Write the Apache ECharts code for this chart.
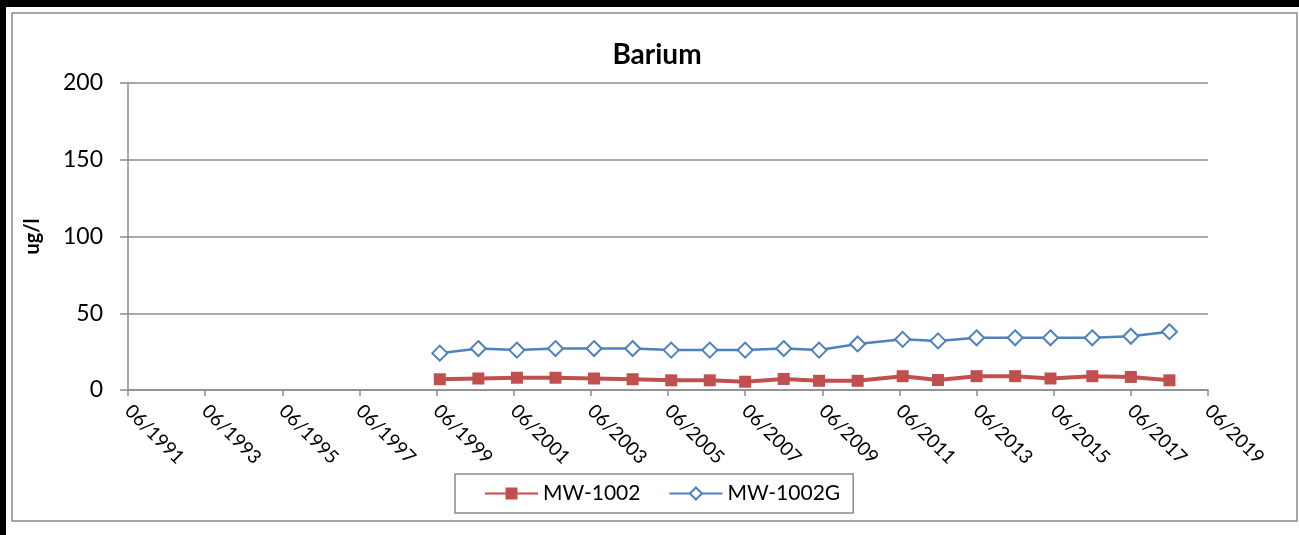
<!DOCTYPE html>
<html>
<head>
<meta charset="utf-8">
<script src="https://cdn.jsdelivr.net/npm/echarts@6/dist/echarts.min.js"></script>
<style>
html,body{margin:0;padding:0;background:#fff;}
#chart{width:1299px;height:535px;}
</style>
</head>
<body>
<div id="chart"></div>
<script>
// ---- data ----
const sampleDates = ['1999-07','2000-07','2001-07','2002-07','2003-07','2004-07','2005-07','2006-07','2007-06','2008-06',
                     '2009-05','2010-05','2011-07','2012-06','2013-06','2014-06','2015-05','2016-06','2017-06','2018-06'];
const mw1002  = [7, 7.5, 8, 8, 7.5, 7, 6.3, 6.3, 5.4, 7.2, 6, 6, 9, 6.5, 9, 9, 7.5, 9, 8.5, 6.3];
const mw1002G = [24, 27, 26, 27, 27, 27, 26, 26, 26, 27, 26, 30, 33, 32, 34, 34, 34, 34, 35, 38];
const seriesNames = ['MW-1002', 'MW-1002G'];
const yTicks = [0, 50, 100, 150, 200];
const startYear = 1991, startMonth = 6;   // axis origin 06/1991
const endYear = 2019;

function monthOffset(s){
  const [y, m] = s.split('-').map(Number);
  return (y - startYear) * 12 + (m - startMonth);
}
const xs = sampleDates.map(monthOffset);

const chart = echarts.init(document.getElementById('chart'));
const FONT = 'Lato';
chart.setOption({
  animation: false,
  textStyle: {fontFamily: FONT},
  title: {
    text: 'Barium', left: 652, top: 36, textAlign: 'center',
    textStyle: {fontFamily: FONT, fontSize: 28, fontWeight: 'bold', color: '#000'}
  },
  graphic: [
    {type: 'rect', shape: {x: 0, y: 0, width: 1299, height: 7}, style: {fill: '#000'}, silent: true},
    {type: 'rect', shape: {x: 0, y: 0, width: 6, height: 535}, style: {fill: '#000'}, silent: true},
    {type: 'rect', shape: {x: 12, y: 13, width: 1285, height: 508}, style: {fill: 'none', stroke: '#8c8c8c', lineWidth: 1.5}, silent: true}
  ],
  legend: {
    left: 455, top: 474,
    padding: [9, 13, 9, 29],
    itemWidth: 53, itemHeight: 15, itemGap: 28,
    borderColor: '#8c8c8c', borderWidth: 1.5,
    textStyle: {fontFamily: FONT, fontSize: 21, color: '#000'},
    data: seriesNames
  },
  grid: {left: 128, right: 91, top: 83, bottom: 145, containLabel: false},
  xAxis: {
    type: 'value', min: 0, max: (endYear - startYear) * 12, interval: 24,
    axisLine: {show: true, onZero: true, lineStyle: {color: '#8c8c8c', width: 1.5}},
    axisTick: {show: true, length: 6, lineStyle: {color: '#8c8c8c', width: 1.5}},
    splitLine: {show: false},
    axisLabel: {
      rotate: -45, fontFamily: FONT, fontSize: 19, color: '#000', margin: 18,
      formatter: v => '06/' + (startYear + Math.round(v / 12))
    }
  },
  yAxis: {
    type: 'value', min: yTicks[0], max: yTicks[yTicks.length - 1], interval: 50,
    name: 'ug/l', nameLocation: 'middle', nameGap: 85, nameRotate: 90,
    nameTextStyle: {fontFamily: FONT, fontSize: 20, fontWeight: 'bold', color: '#000'},
    axisLine: {show: true, lineStyle: {color: '#8c8c8c', width: 1.5}},
    axisTick: {show: true, inside: false, length: 8, lineStyle: {color: '#8c8c8c', width: 1.5}},
    splitLine: {show: true, lineStyle: {color: '#8c8c8c', width: 1.5}},
    axisLabel: {fontFamily: FONT, fontSize: 23, color: '#000', margin: 25}
  },
  series: [
    {
      name: seriesNames[0], type: 'line',
      data: xs.map((x, i) => [x, mw1002[i]]),
      symbol: 'rect', symbolSize: 12,
      lineStyle: {color: '#C0504D', width: 4},
      itemStyle: {color: '#C0504D'}
    },
    {
      name: seriesNames[1], type: 'line',
      data: xs.map((x, i) => [x, mw1002G[i]]),
      symbol: 'diamond', symbolSize: 15,
      lineStyle: {color: '#4F81BD', width: 2.5},
      itemStyle: {color: '#fff', borderColor: '#4F81BD', borderWidth: 2}
    }
  ]
});
</script>
</body>
</html>
